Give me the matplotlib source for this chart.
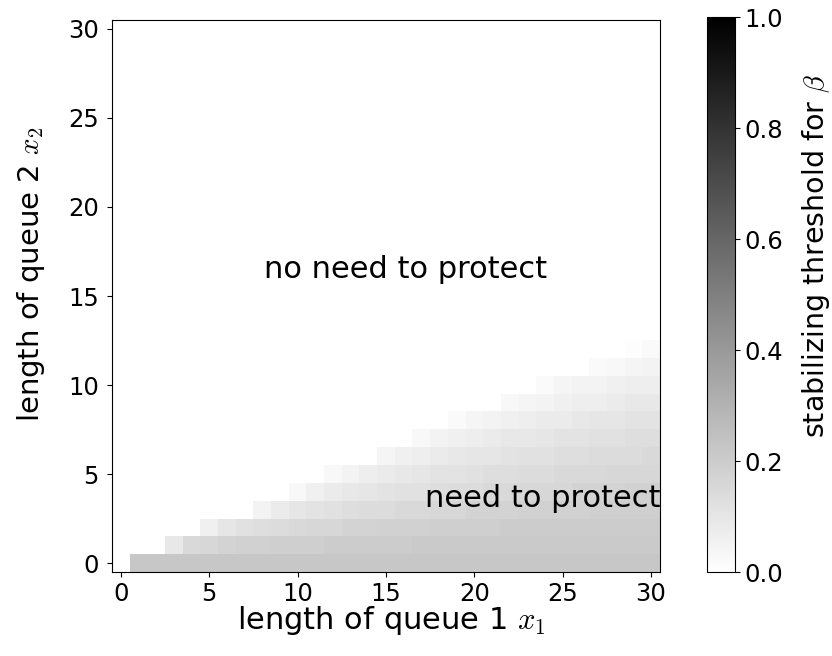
import numpy as np
import matplotlib
matplotlib.use("Agg")
import matplotlib.pyplot as plt

plt.rcParams["mathtext.fontset"] = "cm"

# grid size: queue lengths 0..30
n = 31

# first x1 column that needs protection, for each x2 row (rows above 12 are all zero)
row_start = [1, 3, 5, 8, 10, 12, 15, 17, 19, 22, 24, 27, 29]

# threshold values, from row_start[j] up to x1 = 30
row_values = [
    [0.22, 0.22, 0.22, 0.22, 0.22, 0.22, 0.22, 0.22, 0.22, 0.22, 0.22, 0.22, 0.22, 0.22, 0.22,
     0.22, 0.22, 0.22, 0.22, 0.22, 0.22, 0.22, 0.22, 0.22, 0.22, 0.22, 0.22, 0.22, 0.22, 0.22],
    [0.09, 0.15, 0.16, 0.17, 0.18, 0.18, 0.19, 0.19, 0.19, 0.20, 0.20, 0.20, 0.20, 0.20,
     0.21, 0.21, 0.21, 0.21, 0.21, 0.21, 0.21, 0.21, 0.21, 0.21, 0.21, 0.21, 0.21, 0.21],
    [0.06, 0.10, 0.12, 0.13, 0.14, 0.15, 0.16, 0.16, 0.17, 0.17, 0.18, 0.18, 0.18,
     0.19, 0.19, 0.19, 0.19, 0.20, 0.20, 0.20, 0.20, 0.20, 0.20, 0.20, 0.20, 0.20],
    [0.05, 0.08, 0.10, 0.11, 0.12, 0.13, 0.14, 0.14, 0.15, 0.15, 0.16, 0.16,
     0.17, 0.17, 0.17, 0.18, 0.18, 0.18, 0.18, 0.19, 0.19, 0.19, 0.19],
    [0.03, 0.06, 0.08, 0.09, 0.10, 0.11, 0.12, 0.12, 0.13, 0.14, 0.14,
     0.15, 0.15, 0.16, 0.16, 0.16, 0.17, 0.17, 0.17, 0.18, 0.18],
    [0.03, 0.05, 0.07, 0.08, 0.09, 0.10, 0.11, 0.11, 0.12, 0.13,
     0.13, 0.14, 0.14, 0.15, 0.15, 0.15, 0.16, 0.16, 0.16],
    [0.04, 0.06, 0.07, 0.08, 0.09, 0.10, 0.10, 0.11, 0.12, 0.12, 0.13, 0.13, 0.14, 0.14, 0.14, 0.15],
    [0.03, 0.05, 0.06, 0.07, 0.08, 0.09, 0.09, 0.10, 0.11, 0.11, 0.12, 0.12, 0.13, 0.13],
    [0.02, 0.04, 0.05, 0.06, 0.07, 0.08, 0.08, 0.09, 0.10, 0.10, 0.11, 0.11],
    [0.03, 0.04, 0.05, 0.06, 0.07, 0.07, 0.08, 0.09, 0.09],
    [0.02, 0.04, 0.05, 0.05, 0.06, 0.07, 0.07],
    [0.02, 0.03, 0.04, 0.05],
    [0.01, 0.02],
]

grid = np.zeros((n, n))
for j, (s, vals) in enumerate(zip(row_start, row_values)):
    grid[j, s:s + len(vals)] = vals

fig = plt.figure(figsize=(8.32, 6.56), dpi=100)
ax = fig.add_axes([0.1346, 0.128, 0.6584, 0.8415])
cax = fig.add_axes([0.85, 0.128, 0.0337, 0.846])

im = ax.imshow(grid, cmap="gray_r", vmin=0, vmax=1, origin="lower",
               interpolation="nearest", aspect="auto")
ax.set_xticks(range(0, 31, 5))
ax.set_yticks(range(0, 31, 5))
ax.tick_params(labelsize=17.5)
ax.tick_params(axis="y", pad=6)
ax.tick_params(axis="x", pad=4)
ax.set_xlabel("length of queue 1 $x_1$", fontsize=22)
ax.set_ylabel("length of queue 2 $x_2$", fontsize=21)
ax.xaxis.set_label_coords(0.51, -0.058)
ax.yaxis.set_label_coords(-0.119, 0.54)

ax.text(16.1, 16.5, "no need to protect", fontsize=22, ha="center", va="center")
ax.text(23.85, 3.65, "need to protect", fontsize=22, ha="center", va="center")

cb = fig.colorbar(im, cax=cax)
cb.set_ticks([0.0, 0.2, 0.4, 0.6, 0.8, 1.0])
cb.ax.tick_params(labelsize=17.5, pad=3)
cb.set_label(r"stabilizing threshold for $\beta$", fontsize=20.5)
cb.ax.yaxis.set_label_coords(3.3, 0.57)

# bottom of a cut-off purple title
fig.text(0.506, 1.013, "g", color="#7030a0", fontsize=30, ha="center", va="baseline")

fig.savefig("out.png", dpi=100)
